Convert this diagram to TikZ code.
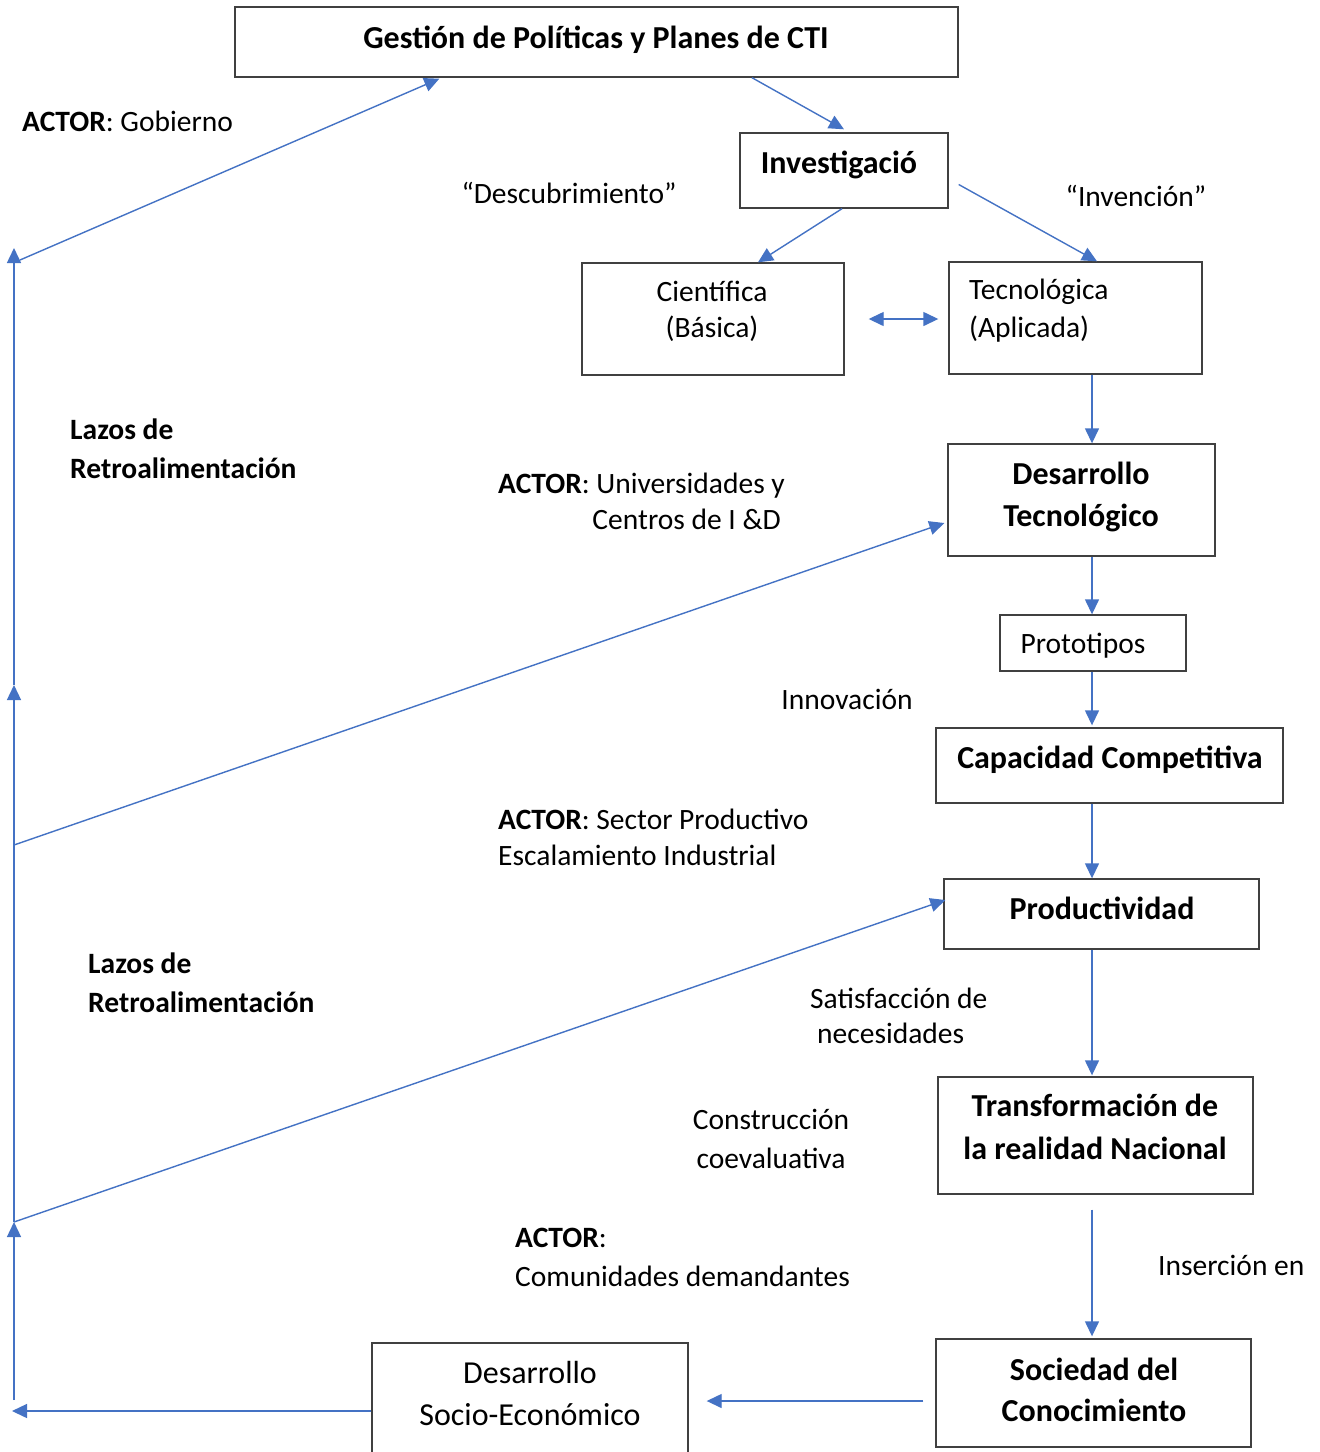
\documentclass[tikz,border=0pt]{standalone}
\usepackage{fontspec}
\setmainfont{Carlito}
\usetikzlibrary{arrows.meta,calc}
\definecolor{blueconn}{RGB}{68,114,196}
\definecolor{boxline}{RGB}{64,64,64}
\begin{document}
\begin{tikzpicture}[x=1pt,y=-1pt,
  box/.style={draw=boxline,line width=1.4pt,inner sep=0pt},
  nt/.style={inner sep=0pt,font=\fontsize{29.5}{36}\selectfont},
  bt/.style={inner sep=0pt,font=\fontsize{29.5}{36}\selectfont\bfseries},
  bigt/.style={inner sep=0pt,font=\fontsize{32}{38}\selectfont},
  bigb/.style={inner sep=0pt,font=\fontsize{32}{38}\selectfont\bfseries},
  tip/.style={-{Triangle[length=15pt,width=14pt]}},
  conn/.style={draw=blueconn,line width=1.4pt,tip},
  dconn/.style={draw=blueconn,line width=1.4pt,{Triangle[length=15pt,width=14pt]}-{Triangle[length=15pt,width=14pt]}},
]
\clip (0,0) rectangle (1320,1452);
\fill[white] (0,0) rectangle (1320,1452);

% boxes
\node[box,minimum width=723pt,minimum height=70pt] (gest) at (596.5,42) {};
\node[box,minimum width=208pt,minimum height=75pt] (inv) at (844,170.5) {};
\node[box,minimum width=262pt,minimum height=112pt] (cien) at (713,319) {};
\node[box,minimum width=253pt,minimum height=112pt] (tec) at (1075.5,318) {};
\node[box,minimum width=267pt,minimum height=112pt] (dt) at (1081.5,500) {};
\node[box,minimum width=186pt,minimum height=56pt] (proto) at (1093,643) {};
\node[box,minimum width=347pt,minimum height=75pt] (cap) at (1109.5,765.5) {};
\node[box,minimum width=315pt,minimum height=70pt] (prod) at (1101.5,914) {};
\node[box,minimum width=315pt,minimum height=117pt] (trans) at (1095.5,1135.5) {};
\node[box,minimum width=315pt,minimum height=108pt] (soc) at (1093.5,1393) {};
\node[box,minimum width=316pt,minimum height=136pt] (dse) at (530,1411) {};

% texts in boxes
\node[bigb,anchor=base] (tgest) at (596,48) {Gestión de Políticas y Planes de CTI};
\node[bigb,anchor=base] (tinv) at (839,173) {Investigació};
\node[nt,anchor=base] (tcien1) at (712,301) {Científica};
\node[nt,anchor=base] (tcien2) at (712,337) {(Básica)};
\node[nt,anchor=base west] (ttec1) at (969,299) {Tecnológica};
\node[nt,anchor=base west] (ttec2) at (969,337) {(Aplicada)};
\node[bigb,anchor=base] (tdt1) at (1081,484) {Desarrollo};
\node[bigb,anchor=base] (tdt2) at (1081,526) {Tecnológico};
\node[nt,anchor=base] (tproto) at (1083,653) {Prototipos};
\node[bigb,anchor=base] (tcap) at (1110,768) {Capacidad Competitiva};
\node[bigb,anchor=base] (tprod) at (1102,919) {Productividad};
\node[bigb,anchor=base] (ttr1) at (1095,1116) {Transformación de};
\node[bigb,anchor=base] (ttr2) at (1095,1159) {la realidad Nacional};
\node[bigb,anchor=base] (tsoc1) at (1094,1380) {Sociedad del};
\node[bigb,anchor=base] (tsoc2) at (1094,1421) {Conocimiento};
\node[bigt,anchor=base] (tdse1) at (530,1383) {Desarrollo};
\node[bigt,anchor=base] (tdse2) at (530,1425) {Socio-Económico};

% free labels
\node[nt,anchor=base west] (lgob) at (22,131) {\textbf{ACTOR}: Gobierno};
\node[nt,anchor=base] (ldesc) at (569,203) {“Descubrimiento”};
\node[nt,anchor=base] (linv) at (1136,206) {“Invención”};
\node[bt,anchor=base west] (llaz1) at (70,439) {Lazos de};
\node[bt,anchor=base west] (llaz2) at (70,478) {Retroalimentación};
\node[nt,anchor=base west] (luni1) at (498,493) {\textbf{ACTOR}: Universidades y};
\node[nt,anchor=base east] (luni2) at (781,529) {Centros de I \&D};
\node[nt,anchor=base] (linn) at (847,709) {Innovación};
\node[nt,anchor=base west] (lsec1) at (498,829) {\textbf{ACTOR}: Sector Productivo};
\node[nt,anchor=base west] (lsec2) at (498,865) {Escalamiento Industrial};
\node[bt,anchor=base west] (llaz3) at (88,973) {Lazos de};
\node[bt,anchor=base west] (llaz4) at (88,1012) {Retroalimentación};
\node[nt,anchor=base west] (lsat1) at (810,1008) {Satisfacción de};
\node[nt,anchor=base west] (lsat2) at (817,1043) {necesidades};
\node[nt,anchor=base] (lcon1) at (771,1129) {Construcción};
\node[nt,anchor=base] (lcon2) at (771,1168) {coevaluativa};
\node[nt,anchor=base west] (lcom1) at (515,1247) {\textbf{ACTOR}:};
\node[nt,anchor=base west] (lcom2) at (515,1286) {Comunidades demandantes};
\node[nt,anchor=base west] (lins) at (1158,1275) {Inserción en};

% helper coordinates
\coordinate (spine) at (1092,0);
\coordinate (tgap) at ([yshift=-15pt]trans.south);
\coordinate (cw) at ([xshift=24pt]cien.east);
\coordinate (tw) at ([xshift=-10pt]tec.west);
\coordinate (lbot) at (12,1411);
\coordinate (lstart) at (14,1400);
\coordinate (l3) at (14,1222);
\coordinate (lmid) at (14,845);
\coordinate (l2) at (14,685);
\coordinate (l1) at (14,248);
\coordinate (l1d) at (20,260);

% connectors top
\draw[conn] ([xshift=155.5pt]gest.south) -- ([yshift=3pt]inv.north);
\draw[conn] ([xshift=-2pt]inv.south) -- ([xshift=45pt]cien.north);
\draw[conn] ([xshift=10pt,yshift=-14pt]inv.east) -- ([xshift=21.5pt]tec.north);
\draw[dconn] (cw) -- (tw |- cw);

% spine
\draw[conn] (tec.south -| spine) -- (dt.north -| spine);
\draw[conn] (dt.south -| spine) -- (proto.north -| spine);
\draw[conn] (proto.south -| spine) -- ([yshift=2pt]cap.north -| spine);
\draw[conn] (cap.south -| spine) -- (prod.north -| spine);
\draw[conn] (prod.south -| spine) -- ([yshift=1pt]trans.north -| spine);
\draw[conn] (tgap -| spine) -- ([yshift=2pt]soc.north -| spine);

% bottom
\draw[conn] ($(soc.west)+(-12,8)$) -- ($(dse.east)+(18,-10)$);
\draw[conn] (dse.west) -- (lbot);

% left loop
\draw[conn] (lstart) -- (l3);
\draw[conn] (l3) -- (l2);
\draw[conn] (l2) -- (l1);
\draw[conn] (l1d) -- ($(gest.south west)+(205,1)$);
\draw[conn] (lmid) -- ($(dt.west)+(-3,23)$);
\draw[conn] (l3) -- ($(prod.west)+(2,-14)$);
\end{tikzpicture}
\end{document}
